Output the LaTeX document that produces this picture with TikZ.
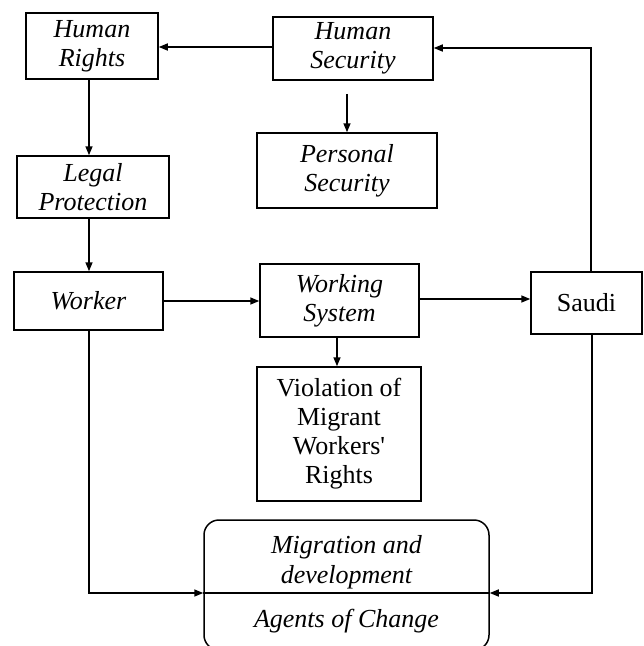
\documentclass[tikz,border=0pt]{standalone}
\usepackage{fontspec}
\setmainfont{Liberation Serif}
\usetikzlibrary{arrows.meta,calc}
\begin{document}
\begin{tikzpicture}[x=1pt,y=-1pt,
  box/.style={draw,line width=1.5pt,align=center,inner sep=0pt,font=\fontsize{26}{29}\selectfont},
  lbl/.style={anchor=base,inner sep=0pt,font=\fontsize{26}{29}\selectfont\itshape},
  conn/.style={line width=1.5pt},
  arr/.style={conn,-{Triangle[length=9pt,width=7pt]}}]
\useasboundingbox (0,0) rectangle (644,646);
\clip (0,0) rectangle (644,646);
\node[box,minimum width=132pt,minimum height=66pt] (HR) at (92,46) {\itshape Human\\\itshape Rights};
\node[box,minimum width=160pt,minimum height=63pt] (HS) at (353,48.5) {\itshape Human\\\itshape Security};
\node[box,minimum width=180pt,minimum height=75pt] (PS) at (347,170.5) {\itshape Personal\\\itshape Security};
\node[box,minimum width=152pt,minimum height=62pt] (LP) at (93,187) {\itshape Legal\\\itshape Protection};
\node[box,minimum width=149pt,minimum height=58pt] (W) at (88.5,301) {\itshape Worker};
\node[box,minimum width=159pt,minimum height=73pt] (WS) at (339.5,300.5) {\itshape Working\\\itshape System};
\node[box,minimum width=111pt,minimum height=62pt] (S) at (586.5,303) {Saudi};
\node[box,minimum width=164pt,minimum height=134pt] (V) at (339,434) {Violation of\\Migrant\\Workers\textquotesingle\\Rights};
\node[draw,line width=1.5pt,rounded corners=15pt,minimum width=285pt,minimum height=130pt,inner sep=0pt] (B) at (346.5,585) {};
\coordinate (div) at (346.5,593);
\node[lbl] (M1) at (346.5,553) {Migration and};
\node[lbl] (M2) at (346.5,583) {development};
\node[lbl] (AC) at (346.5,627) {Agents of Change};
\draw[conn] (B.west|-div) -- (B.east|-div);
% connectors
\draw[arr] (HS.west|-0,47) -- (HR.east|-0,47);
\draw[arr] (89,0|-HR.south) -- (89,0|-LP.north);
\draw[arr] (89,0|-LP.south) -- (89,0|-W.north);
\draw[arr] (W.east|-0,301) -- (WS.west|-0,301);
\draw[arr] (WS.east|-0,299) -- (S.west|-0,299);
\draw[arr] (337,0|-WS.south) -- (337,0|-V.north);
\draw[arr] ([yshift=-13pt]PS.north|-HS.south) -- (PS.north);
\draw[arr] (591,0|-S.north) |- (HS.east|-0,48);
\draw[arr] (89,0|-W.south) |- (B.west|-div);
\draw[arr] (592,0|-S.south) |- (B.east|-div);
\end{tikzpicture}
\end{document}
